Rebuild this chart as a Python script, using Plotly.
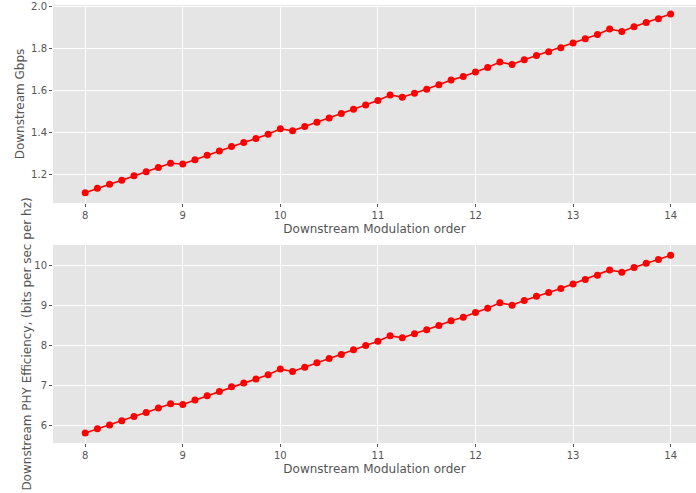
import plotly.graph_objects as go
from plotly.subplots import make_subplots

mod_order = [8 + 0.125 * i for i in range(49)]

gbps = [1.116, 1.137, 1.156, 1.175, 1.197, 1.216, 1.236, 1.256, 1.252,
        1.273, 1.294, 1.314, 1.335, 1.354, 1.373, 1.394, 1.420, 1.410,
        1.430, 1.451, 1.471, 1.492, 1.513, 1.533, 1.554, 1.580, 1.570,
        1.589, 1.608, 1.629, 1.651, 1.668, 1.690, 1.711, 1.737, 1.725,
        1.748, 1.768, 1.786, 1.805, 1.827, 1.848, 1.868, 1.894, 1.882,
        1.905, 1.925, 1.943, 1.965]

efficiency = [5.818, 5.925, 6.017, 6.124, 6.232, 6.332, 6.440, 6.547, 6.531,
              6.638, 6.746, 6.854, 6.970, 7.061, 7.161, 7.269, 7.410, 7.352,
              7.459, 7.567, 7.675, 7.774, 7.891, 7.998, 8.106, 8.239, 8.189,
              8.289, 8.388, 8.496, 8.612, 8.703, 8.819, 8.927, 9.060, 9.002,
              9.118, 9.226, 9.317, 9.416, 9.532, 9.640, 9.748, 9.881, 9.823,
              9.939, 10.046, 10.138, 10.245]

x_ticks = [8, 9, 10, 11, 12, 13, 14]
gbps_ticks = [1.2, 1.4, 1.6, 1.8, 2.0]
eff_ticks = [6, 7, 8, 9, 10]

x_title = "Downstream Modulation order"
y1_title = "Downstream Gbps"
y2_title = "Downstream PHY Efficiency, (bits per sec per hz)"

fig = make_subplots(rows=2, cols=1)

line_style = dict(color="#FF0000", width=1.6)
marker_style = dict(color="#FF0000", size=7, symbol="circle")

fig.add_trace(go.Scatter(x=mod_order, y=gbps, mode="lines+markers",
                         line=line_style, marker=marker_style, showlegend=False),
              row=1, col=1)
fig.add_trace(go.Scatter(x=mod_order, y=efficiency, mode="lines+markers",
                         line=line_style, marker=marker_style, showlegend=False),
              row=2, col=1)

font = dict(family="DejaVu Sans", size=12, color="#555555")
tickfont = dict(family="DejaVu Sans", size=10, color="#555555")

common_x = dict(range=[7.67, 14.26], tickvals=x_ticks, showgrid=True,
                gridcolor="white", gridwidth=1.3, zeroline=False,
                ticks="outside", ticklen=3, tickcolor="#555555",
                tickfont=tickfont, showline=False,
                title=dict(text=x_title, font=font, standoff=4))
common_y = dict(showgrid=True, gridcolor="white", gridwidth=1.3, zeroline=False,
                ticks="outside", ticklen=3, tickcolor="#555555",
                tickfont=tickfont, showline=False)

fig.update_layout(
    width=696, height=493,
    margin=dict(l=53, r=0, t=5, b=50),
    paper_bgcolor="white",
    plot_bgcolor="#E5E5E5",
    font=font,
    xaxis=dict(domain=[0, 1], anchor="y", **common_x),
    xaxis2=dict(domain=[0, 1], anchor="y2", **common_x),
    yaxis=dict(domain=[0.548, 1], anchor="x", range=[1.067, 2.008],
               tickvals=gbps_ticks, ticktext=[f"{v:.1f}" for v in gbps_ticks],
               title=dict(text=y1_title, font=font, standoff=3), **common_y),
    yaxis2=dict(domain=[0, 0.452], anchor="x2", range=[5.57, 10.5],
                tickvals=eff_ticks,
                title=dict(text=y2_title, font=font, standoff=0), **common_y),
)

fig.write_html("out.html")
